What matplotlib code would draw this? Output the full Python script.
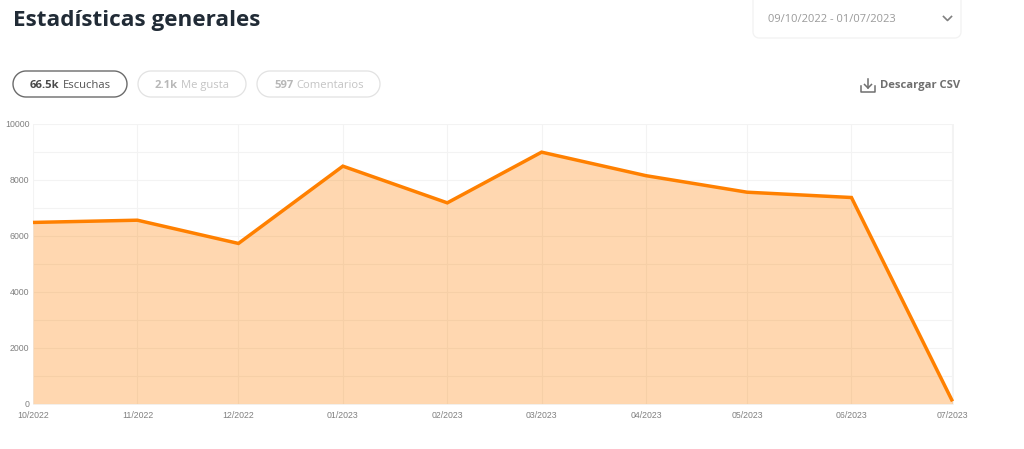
from datetime import datetime
import numpy as np
import matplotlib
matplotlib.use('Agg')
import matplotlib.pyplot as plt
import matplotlib.dates as mdates

months = ['2022-10', '2022-11', '2022-12', '2023-01', '2023-02',
          '2023-03', '2023-04', '2023-05', '2023-06', '2023-07']
plays = [6470, 6550, 5720, 8480, 7170, 8980, 8140, 7550, 7360, 80]
yticks = [0, 2000, 4000, 6000, 8000, 10000]
y_minor = [1000, 3000, 5000, 7000, 9000]

dates = [datetime.strptime(m, '%Y-%m') for m in months]

plt.rcParams['font.family'] = ['Liberation Sans', 'DejaVu Sans']

W, H = 1024, 449
fig = plt.figure(figsize=(W / 100, H / 100), dpi=100)

# page furniture, in pixel coordinates
ui = fig.add_axes([0, 0, 1, 1])
ui.set_xlim(0, W)
ui.set_ylim(H, 0)
ui.axis('off')


def pill(x0, x1, y0, y1, edge, lw=1.0, rad=13):
    t = np.linspace(0, np.pi / 2, 20)
    xs = np.concatenate([x1 - rad + rad * np.cos(t), x0 + rad - rad * np.sin(t),
                         x0 + rad - rad * np.cos(t), x1 - rad + rad * np.sin(t)])
    ys = np.concatenate([y1 - rad + rad * np.sin(t), y1 - rad + rad * np.cos(t),
                         y0 + rad - rad * np.sin(t), y0 + rad - rad * np.cos(t)])
    ui.fill(xs, ys, fc='white', ec=edge, lw=lw)


def label(x, y, s, size, color, bold=False):
    ui.text(x, y, s, family='Open Sans', weight='bold' if bold else 'normal',
            fontsize=size, color=color, va='center')


label(13, 20.5, 'Estadísticas generales', 16.2, '#212b36', True)

pill(13, 127, 71, 97, '#6b6b6b', 1.0)
pill(138, 246, 71, 97, '#e2e2e2', 0.9)
pill(257, 380, 71, 97, '#e2e2e2', 0.9)
label(29.5, 85.2, '66.5k', 8.1, '#4a4a4a', True)
label(62.5, 85.2, 'Escuchas', 8.1, '#555555')
label(155, 85.2, '2.1k', 8.1, '#b8b8b8', True)
label(181, 85.2, 'Me gusta', 8.1, '#c4c4c4')
label(274, 85.2, '597', 8.1, '#b8b8b8', True)
label(296.5, 85.2, 'Comentarios', 8.1, '#c4c4c4')

pill(753, 961, -15, 38, '#f2f2f2', 0.9, 6)
label(767.5, 19, '09/10/2022 - 01/07/2023', 8.05, '#9a9a9a')
ui.plot([943.5, 947.5, 951.5], [16.5, 20.5, 16.5], color='#808080', lw=1.2)

label(880.5, 85.8, 'Descargar CSV', 8.1, '#6f6f6f', True)
ui.plot([861, 861, 875, 875], [86, 91.5, 91.5, 86], color='#6f6f6f', lw=1.1)
ui.plot([868, 868], [78.5, 87.5], color='#6f6f6f', lw=1.1)
ui.plot([864.5, 868, 871.5], [84.5, 88, 84.5], color='#6f6f6f', lw=1.1)

# chart
ax = fig.add_axes([33 / W, (H - 403.6) / H, 919.5 / W, 280 / H])
ax.patch.set_alpha(0)
ax.set_xlim(dates[0], dates[-1])
ax.set_ylim(0, 10000)
ax.fill_between(dates, plays, 0, color='#ff8000', alpha=0.31, lw=0, zorder=3)
ax.plot(dates, plays, color='#ff8000', lw=2.5, zorder=4, clip_on=False,
        solid_joinstyle='miter', solid_capstyle='butt')

ax.set_xticks(mdates.date2num(dates))
ax.set_xticklabels([d.strftime('%m/%Y') for d in dates])
ax.set_yticks(yticks)
ax.set_yticks(y_minor, minor=True)
ax.grid(True, which='both', color='#f3f3f3', lw=0.8, zorder=1)
ax.set_axisbelow(True)
ax.tick_params(which='both', length=0)
ax.tick_params(axis='x', pad=5.5, labelsize=6.3, labelcolor='#808080')
ax.tick_params(axis='y', pad=2.5, labelsize=6.3, labelcolor='#808080')
for s in ax.spines.values():
    s.set_color('#f3f3f3')
    s.set_linewidth(0.7)

fig.savefig('out.png', dpi=100)
